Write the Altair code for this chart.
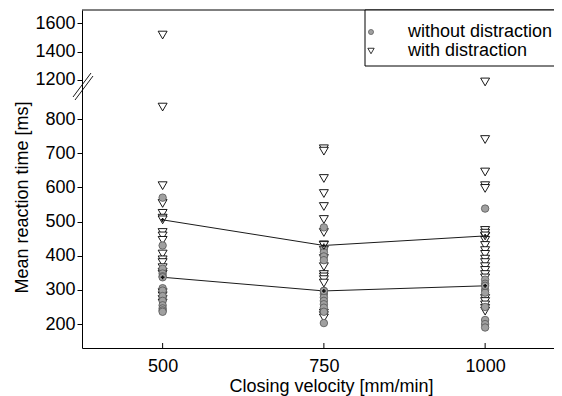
import altair as alt
import pandas as pd

velocities = [500, 750, 1000]

rt_500_without = [570, 430, 362, 348, 340, 305, 298, 282, 268, 255, 246, 240, 236]
rt_750_without = [483, 420, 410, 398, 387, 297, 288, 278, 268, 258, 248, 236, 203]
rt_1000_without = [538, 330, 318, 300, 292, 250, 212, 200, 190]

rt_500_with = [1517, 835, 605, 553, 524, 510, 468, 458, 445, 405, 388, 380, 365, 352, 346, 292, 283, 272, 262]
rt_750_with = [713, 706, 626, 582, 544, 506, 468, 432, 416, 392, 368, 345, 338, 330, 320, 232, 225, 218]
rt_1000_with = [1186, 740, 645, 605, 597, 474, 466, 456, 445, 430, 415, 404, 390, 380, 368, 357, 345, 335,
                275, 266, 256, 246, 238]

mean_without = [337, 297, 312]
mean_with = [505, 430, 458]

y_ticks = [200, 300, 400, 500, 600, 700, 800, 1200, 1400, 1600]
legend_labels = ["without distraction", "with distraction"]

rows = []
for v, vals in zip(velocities, [rt_500_without, rt_750_without, rt_1000_without]):
    rows += [{"velocity": v, "rt": r, "cond": "without"} for r in vals]
for v, vals in zip(velocities, [rt_500_with, rt_750_with, rt_1000_with]):
    rows += [{"velocity": v, "rt": r, "cond": "with"} for r in vals]
points = pd.DataFrame(rows)

means = pd.DataFrame({
    "velocity": velocities * 2,
    "rt": mean_without + mean_with,
    "cond": ["without"] * 3 + ["with"] * 3,
})
ticks_df = pd.DataFrame({"velocity": velocities})
one = pd.DataFrame({"k": [0]})

W, H = 472, 338
FONT = "Liberation Sans"

xscale = alt.Scale(domain=[375, 375 + W / 0.645], nice=False, zero=False)
yscale = alt.Scale(domain=[130, 880, 1130, 1694], range=[338, 81.7, 79.9, 0], nice=False, zero=False)

X = alt.X("velocity:Q", scale=xscale,
          axis=alt.Axis(values=velocities, title="Closing velocity [mm/min]", ticks=False,
                        labelPadding=9, format="d", titleX=249, titleY=43,
                        titleBaseline="alphabetic", titleAlign="center", titleAnchor="start"))
Y = alt.Y("rt:Q", scale=yscale,
          axis=alt.Axis(values=y_ticks, title="Mean reaction time [ms]", tickSize=5, labelPadding=2,
                        format="d", titleX=-60, titleY=187, titleBaseline="middle",
                        titleAlign="center", titleAnchor="start"))

top_border = alt.Chart(one).mark_rule(color="black", strokeWidth=1).encode(
    x=alt.value(0), x2=alt.value(W), y=alt.value(0))

xticks = alt.Chart(ticks_df).mark_rule(color="black", strokeWidth=1).encode(
    x=alt.X("velocity:Q", scale=xscale), y=alt.value(H), y2=alt.value(H - 5))

lines = alt.Chart(means).mark_line(color="black", strokeWidth=0.9).encode(
    x=X, y=Y, detail="cond:N")

tri = alt.Chart(points).transform_filter(alt.datum.cond == "with").mark_point(
    shape="triangle-down", fill="white", stroke="black", strokeWidth=0.9, size=80,
    opacity=1, fillOpacity=1).encode(x=X, y=Y)

circ = alt.Chart(points).transform_filter(alt.datum.cond == "without").mark_point(
    shape="circle", fill="#a0a0a0", stroke="#555555", strokeWidth=0.8, size=56,
    opacity=1, fillOpacity=1).encode(x=X, y=Y)

mean_tri = alt.Chart(means).transform_filter(alt.datum.cond == "with").mark_point(
    shape="triangle-down", fill="white", stroke="black", strokeWidth=0.9, size=80,
    opacity=1, fillOpacity=1).encode(x=X, y=Y)
mean_circ = alt.Chart(means).transform_filter(alt.datum.cond == "without").mark_point(
    shape="circle", fill="#a0a0a0", stroke="#555555", strokeWidth=0.8, size=56,
    opacity=1, fillOpacity=1).encode(x=X, y=Y)
mean_cross = alt.Chart(means).mark_point(
    shape="cross", filled=True, color="#111111", size=14, opacity=1).encode(x=X, y=Y)

# legend box
leg_box = alt.Chart(one).mark_rect(fill="white", stroke="black", strokeWidth=1).encode(
    x=alt.value(283), x2=alt.value(560), y=alt.value(0), y2=alt.value(56))
leg_c = alt.Chart(one).mark_point(shape="circle", fill="#a0a0a0", stroke="#555555",
                                  strokeWidth=0.7, size=26, opacity=1).encode(
    x=alt.value(289), y=alt.value(22))
leg_t = alt.Chart(one).mark_point(shape="triangle-down", fill="white", stroke="black",
                                  strokeWidth=0.8, size=40, opacity=1).encode(
    x=alt.value(289), y=alt.value(41))
leg_txt1 = alt.Chart(one).mark_text(align="left", baseline="middle", font=FONT, fontSize=18,
                                    color="black").encode(
    x=alt.value(326), y=alt.value(22), text=alt.value(legend_labels[0]))
leg_txt2 = alt.Chart(one).mark_text(align="left", baseline="middle", font=FONT, fontSize=18,
                                    color="black").encode(
    x=alt.value(326), y=alt.value(41), text=alt.value(legend_labels[1]))

# axis break marks
brk = []
for (x1, y1, x2, y2) in [(-9, 87, 9, 63), (-7, 90, 11, 66)]:
    brk.append(alt.Chart(one).mark_rule(color="black", strokeWidth=0.9).encode(
        x=alt.value(x1), y=alt.value(y1), x2=alt.value(x2), y2=alt.value(y2)))

chart = alt.layer(
    lines, tri, circ, mean_tri, mean_circ, mean_cross, xticks, top_border,
    leg_box, leg_c, leg_t, leg_txt1, leg_txt2, *brk
).properties(
    width=W, height=H, autosize="none",
    padding={"left": 74, "top": 2, "right": 0, "bottom": 48},
).configure_view(stroke=None).configure_axis(
    grid=False, labelFont=FONT, titleFont=FONT, labelFontSize=18, titleFontSize=18,
    labelColor="black", titleColor="black", domainColor="black", tickColor="black",
    titleFontWeight="normal", domainWidth=1, tickWidth=1,
)

chart.save("out.html", embed_options={"renderer": "svg", "actions": False})
